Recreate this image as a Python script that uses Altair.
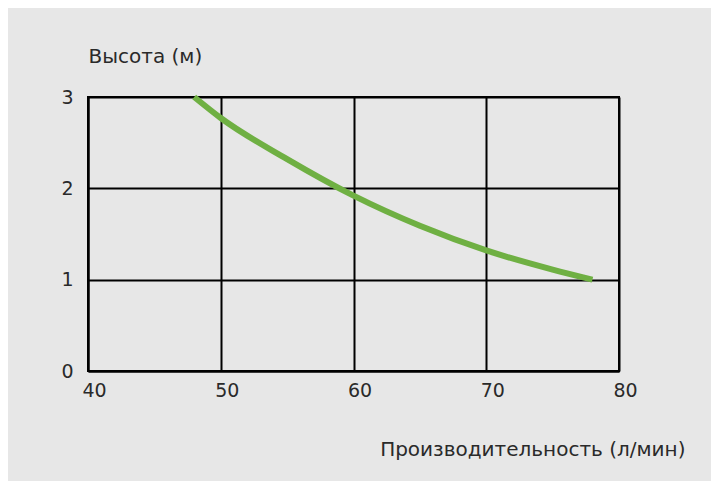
import altair as alt
import pandas as pd

# flow (l/min) and head (m)
flow = [48.0, 50.0, 55.0, 60.0, 65.0, 70.0, 75.0, 78.0]
head = [3.0, 2.77, 2.32, 1.92, 1.59, 1.32, 1.11, 1.0]

x_ticks = [40, 50, 60, 70, 80]
y_ticks = [0, 1, 2, 3]

df = pd.DataFrame({'flow': flow, 'head': head})

text_color = '#2a2a2a'
font = 'DejaVu Sans'

chart = alt.Chart(df).mark_line(
    color='#6fb043', strokeWidth=6, interpolate='monotone', strokeCap='butt'
).encode(
    x=alt.X('flow:Q', scale=alt.Scale(domain=[40, 80], nice=False),
            axis=alt.Axis(values=x_ticks, title='Производительность (л/мин)',
                          titleX=597, titleY=84, titleAlign='right',
                          titleBaseline='alphabetic', titleAnchor=None,
                          labelPadding=10, labelOffset=6, labelFlush=False,
                          labelBaseline='top')),
    y=alt.Y('head:Q', scale=alt.Scale(domain=[0, 3], nice=False),
            axis=alt.Axis(values=y_ticks, title='Высота (м)', titleAngle=0,
                          titleX=0, titleY=-35, titleAlign='left',
                          titleBaseline='alphabetic', titleAnchor=None,
                          labelPadding=15, labelFlush=False,
                          labelBaseline='middle'))
).properties(
    width=531,
    height=274,
    autosize=alt.AutoSizeParams(type='none'),
    padding={'left': 80, 'top': 89, 'right': 92, 'bottom': 110}
).configure(
    background='#e7e7e7'
).configure_view(
    stroke='black', strokeWidth=2, fill='#e7e7e7'
).configure_axis(
    grid=True, gridColor='black', gridWidth=2, gridOpacity=1,
    domain=True, domainColor='black', domainWidth=2,
    ticks=False,
    labelFont=font, labelFontSize=19, labelColor=text_color,
    titleFont=font, titleFontSize=20, titleColor=text_color, titleFontWeight='normal'
)

chart.save('out.html', embed_options={'renderer': 'svg', 'actions': False})
